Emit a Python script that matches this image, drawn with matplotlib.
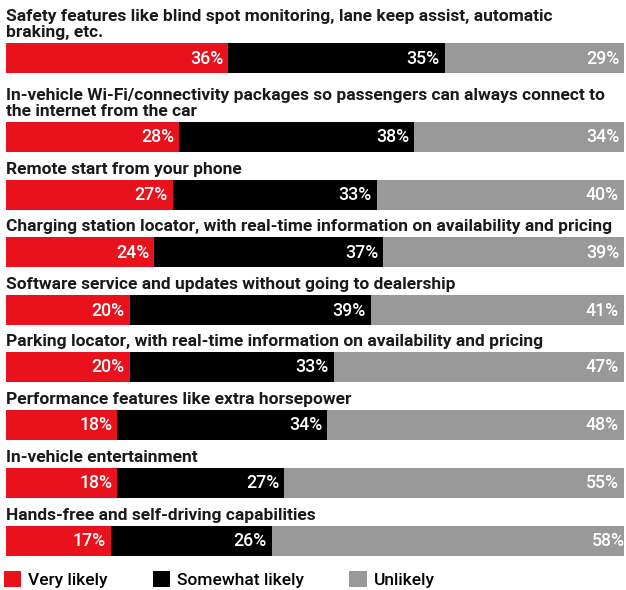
import matplotlib.pyplot as plt
from matplotlib.patches import Patch

plt.rcParams['font.family'] = ['Roboto', 'DejaVu Sans']

features = [
    "Safety features like blind spot monitoring, lane keep assist, automatic\nbraking, etc.",
    "In-vehicle Wi-Fi/connectivity packages so passengers can always connect to\nthe internet from the car",
    "Remote start from your phone",
    "Charging station locator, with real-time information on availability and pricing",
    "Software service and updates without going to dealership",
    "Parking locator, with real-time information on availability and pricing",
    "Performance features like extra horsepower",
    "In-vehicle entertainment",
    "Hands-free and self-driving capabilities",
]
very_likely = [36, 28, 27, 24, 20, 20, 18, 18, 17]
somewhat_likely = [35, 38, 33, 37, 39, 33, 34, 27, 26]
unlikely = [29, 34, 40, 39, 41, 47, 48, 55, 58]
series_names = ["Very likely", "Somewhat likely", "Unlikely"]
colors = ["#e8111c", "#000000", "#999999"]

# bar top positions in pixels (figure is 626x590)
bar_tops = [43, 122, 180, 237, 295, 352, 410, 468, 526]
bar_h = 30

fig = plt.figure(figsize=(6.26, 5.9), dpi=100)
ax = fig.add_axes([6 / 626, 0, 618 / 626, 1])
ax.set_xlim(0, 100)
ax.set_ylim(590, 0)
ax.axis('off')

for i, name in enumerate(features):
    y = bar_tops[i] + bar_h / 2
    left = 0
    for vals, c in zip([very_likely, somewhat_likely, unlikely], colors):
        v = vals[i]
        ax.barh(y, v, left=left, height=bar_h, color=c, edgecolor='none')
        ax.text(left + v - 0.8, y + 0.5, f"{v}%", color='white', ha='right', va='center',
                fontsize=12.8, fontweight='medium')
        left += v
    ax.text(0, bar_tops[i] - 3, name, ha='left', va='bottom', fontsize=12.5,
            fontweight='bold', color='#1a1a1a', linespacing=1.08)

handles = [Patch(facecolor=c, edgecolor='none') for c in colors]
fig.legend(handles, series_names, loc='lower left', bbox_to_anchor=(-0.005, -0.008), ncol=3,
           frameon=False, handlelength=1.0, handleheight=1.1,
           handletextpad=0.4, columnspacing=2.6, borderaxespad=0.2, borderpad=0.2,
           prop={'weight': 'medium', 'size': 12.5})

fig.savefig('out.png', dpi=100)
